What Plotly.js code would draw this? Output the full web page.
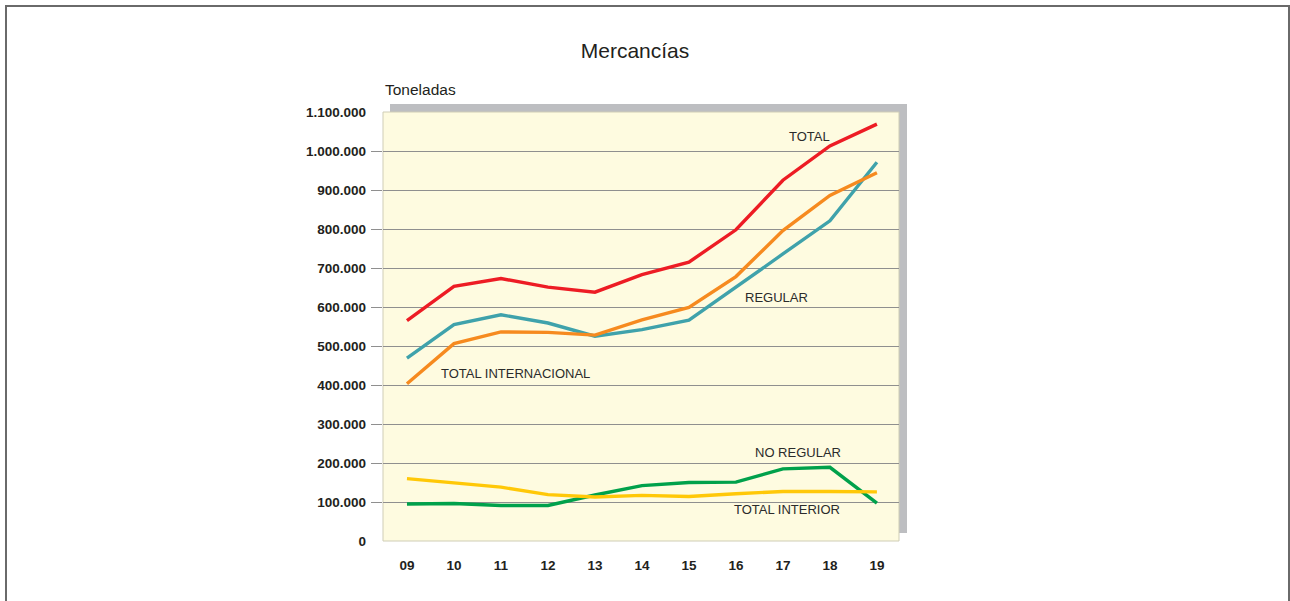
<!DOCTYPE html>
<html>
<head>
<meta charset="utf-8">
<script src="https://cdn.plot.ly/plotly-3.0.1.min.js"></script>
<style>
  html, body { margin: 0; padding: 0; background: #ffffff; }
  #wrap { position: relative; width: 1290px; height: 601px; overflow: hidden; }
  #chart { position: absolute; left: 0; top: 0; width: 1290px; height: 601px; }
  #frame { position: absolute; left: 5px; top: 5px; width: 1281px; height: 600px;
           border-top: 2px solid #6a6a6a; border-left: 2px solid #6a6a6a; border-right: 2px solid #6a6a6a;
           pointer-events: none; }
</style>
</head>
<body>
<div id="wrap">
  <div id="chart"></div>
  <div id="frame"></div>
</div>
<script>
// ---- data ----
const years = ['09', '10', '11', '12', '13', '14', '15', '16', '17', '18', '19'];
const total = [565000, 653000, 673000, 651000, 638000, 683000, 715000, 798000, 925000, 1013000, 1069000];
const regular = [469000, 555000, 580000, 559000, 525000, 542000, 566000, 650000, 736000, 821000, 971000];
const totalInternacional = [403000, 506000, 536000, 535000, 528000, 567000, 599000, 678000, 796000, 886000, 944000];
const noRegular = [95000, 96000, 91000, 91000, 118000, 142000, 150000, 151000, 185000, 189000, 97000];
const totalInterior = [160000, 149000, 138000, 119000, 113000, 117000, 114000, 121000, 127000, 127000, 126000];

const yTickVals = [0, 100000, 200000, 300000, 400000, 500000, 600000, 700000, 800000, 900000, 1000000, 1100000];
const yGridVals = [100000, 200000, 300000, 400000, 500000, 600000, 700000, 800000, 900000, 1000000];
const fmt = v => String(v).replace(/\B(?=(\d{3})+(?!\d))/g, '.');
const yTickText = yTickVals.map(fmt);

const seriesNames = ['TOTAL', 'REGULAR', 'TOTAL INTERNACIONAL', 'NO REGULAR', 'TOTAL INTERIOR'];
const seriesValues = [total, regular, totalInternacional, noRegular, totalInterior];
const seriesColors = ['#ed1c24', '#3fa2ab', '#f68a1f', '#00a14b', '#ffc808'];

const FONT = 'Liberation Sans, Arial, Helvetica, sans-serif';

const traces = seriesValues.map((vals, i) => ({
  type: 'scatter', mode: 'lines',
  x: years, y: vals, name: seriesNames[i],
  xaxis: 'x', yaxis: 'y2',
  line: { color: seriesColors[i], width: 3.4 },
  hoverinfo: 'x+y+name'
}));

// label placements (category index, value)
const labelPos = [
  [8.56, 1037000], [7.87, 625000], [2.31, 429000], [8.33, 226000], [8.08, 80000]
];
const annotations = seriesNames.map((n, i) => ({
  text: n, xref: 'x', yref: 'y', x: labelPos[i][0], y: labelPos[i][1],
  showarrow: false, xanchor: 'center', yanchor: 'middle',
  font: { family: FONT, size: 13, color: '#2b2b2b' }
}));
annotations.push({
  text: 'Toneladas', xref: 'paper', yref: 'paper', x: 0, y: 1 + 22 / 429,
  xanchor: 'left', yanchor: 'middle', showarrow: false,
  font: { family: FONT, size: 15.5, color: '#231f20' }
});

const layout = {
  width: 1290, height: 601,
  margin: { l: 383, r: 391, t: 112, b: 60, pad: 0 },
  paper_bgcolor: '#ffffff',
  plot_bgcolor: 'rgba(0,0,0,0)',
  showlegend: false,
  title: {
    text: 'Mercancías', xref: 'container', yref: 'container',
    x: 635 / 1290, y: 1 - 51 / 601, xanchor: 'center', yanchor: 'middle',
    font: { family: FONT, size: 21, color: '#231f20' }
  },
  xaxis: {
    type: 'category', range: [-0.51, 10.47],
    showgrid: false, zeroline: false, showline: false, ticks: '',
    ticklabelstandoff: 14,
    tickfont: { family: FONT, size: 13.5, color: '#231f20', weight: 'bold' },
    fixedrange: true
  },
  yaxis: {
    range: [0, 1100000], tickmode: 'array', tickvals: yTickVals, ticktext: yTickText,
    showgrid: false, zeroline: false, showline: false, ticks: '',
    ticklabelstandoff: 16,
    tickfont: { family: FONT, size: 13.5, color: '#231f20', weight: 'bold' },
    fixedrange: true
  },
  yaxis2: {
    overlaying: 'y', side: 'left', anchor: 'x',
    range: [0, 1100000], tickmode: 'array', tickvals: yGridVals,
    showticklabels: false, ticks: 'outside', ticklen: 11, tickwidth: 1, tickcolor: '#8f8f8f',
    showgrid: true, gridcolor: '#8f8f8f', gridwidth: 1,
    zeroline: false, showline: false, fixedrange: true
  },
  shapes: [
    { type: 'rect', xref: 'paper', yref: 'paper', layer: 'below',
      x0: 7 / 516, x1: 1 + 8 / 516, y0: 8 / 429, y1: 1 + 8 / 429,
      fillcolor: '#bdbec1', line: { width: 0 } },
    { type: 'rect', xref: 'paper', yref: 'paper', layer: 'below',
      x0: 0, x1: 1, y0: 0, y1: 1,
      fillcolor: '#fefbe0', line: { color: '#cfcdb6', width: 1 } }
  ],
  annotations: annotations
};

Plotly.newPlot('chart', traces, layout, { displayModeBar: false, staticPlot: true });
</script>
</body>
</html>
